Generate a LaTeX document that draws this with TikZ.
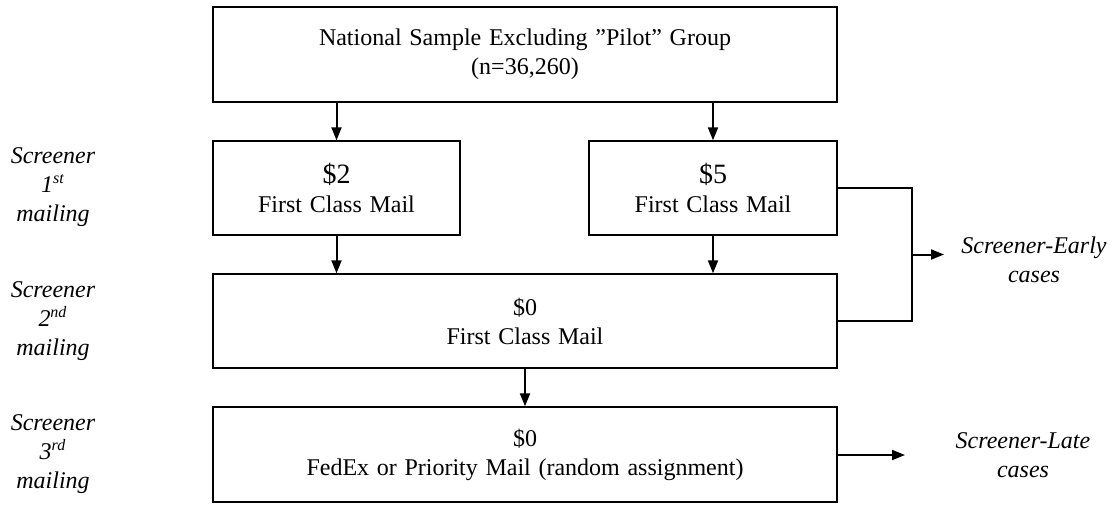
\documentclass[tikz,border=0pt]{standalone}
\usepackage{fontspec}
\setmainfont{Liberation Serif}
\usetikzlibrary{arrows.meta}
\newcommand\myboxfont{\fontsize{12}{14.5}\selectfont\spaceskip=0.32em\relax}
\tikzset{
  box/.style={draw, line width=0.7pt, rectangle, align=center, inner sep=0pt,
    font=\myboxfont},
  arr/.style={line width=1pt, -{Triangle[length=6.5pt,width=5pt]}},
  conn/.style={line width=1pt},
  side/.style={align=center, font=\fontsize{12}{14.5}\selectfont\itshape, inner sep=0pt}
}
\begin{document}
\begin{tikzpicture}[x=0.5pt,y=-0.5pt]
\useasboundingbox (0,0) rectangle (1112,504);
% boxes
\node[box, minimum width=312pt, minimum height=47.5pt] (top) at (525,54.5)
  {National Sample Excluding "Pilot" Group\\(n=36,260)};
\node[box, minimum width=123.5pt, minimum height=47pt] (b2) at (336.5,188)
  {{\fontsize{14}{16}\selectfont \$2}\\First Class Mail};
\node[box, minimum width=124pt, minimum height=47pt] (b5) at (713,188)
  {{\fontsize{14}{16}\selectfont \$5}\\First Class Mail};
\node[box, minimum width=312pt, minimum height=47pt] (m2) at (525,321)
  {\$0\\First Class Mail};
\node[box, minimum width=312pt, minimum height=47.5pt] (m3) at (525,454.5)
  {\$0\\FedEx or Priority Mail (random assignment)};
% left labels
\node[side] (l1) at (53,187) {Screener\\1\textsuperscript{st}\\mailing};
\node[side] (l2) at (53,321) {Screener\\2\textsuperscript{nd}\\mailing};
\node[side] (l3) at (53,454) {Screener\\3\textsuperscript{rd}\\mailing};
% right labels
\node[side] (early) at (1034,260) {Screener-Early\\cases};
\node[side] (late) at (1023,455) {Screener-Late\\cases};
% connectors
\draw[arr] (top.south -| b2.north) -- (b2.north);
\draw[arr] (top.south -| b5.north) -- (b5.north);
\draw[arr] (b2.south) -- (b2.south |- m2.north);
\draw[arr] (b5.south) -- (b5.south |- m2.north);
\draw[arr] (m2.south) -- (m3.north);
\coordinate (j) at (912,254.5);
\coordinate (jend) at (944,254.5);
\draw[conn] (b5.east) -| (j) |- (m2.east);
\draw[arr] (j) -- (jend);
\coordinate (lend) at (905,455);
\draw[arr] (m3.east |- lend) -- (lend);
\end{tikzpicture}
\end{document}
